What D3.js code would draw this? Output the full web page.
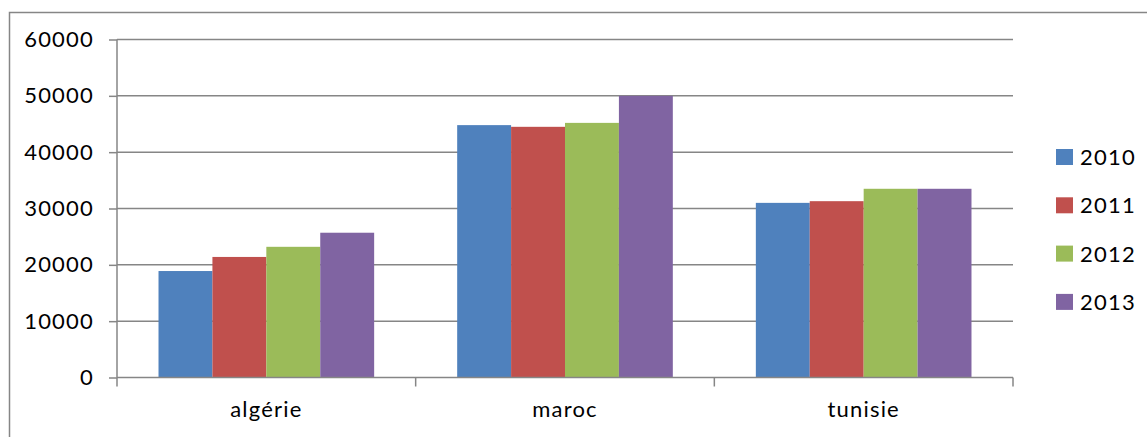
<!DOCTYPE html>
<html>
<head>
<meta charset="utf-8">
<script src="https://cdn.jsdelivr.net/npm/d3@7"></script>
<style>
  html, body { margin: 0; padding: 0; background: #fff; }
  svg { display: block; }
  text { font-family: Lato, "Open Sans", sans-serif; fill: #000; letter-spacing: 1.2px; }
</style>
</head>
<body>
<svg id="chart" width="1147" height="437"></svg>
<script>
// Categories and yearly series
const countries = ["algérie", "maroc", "tunisie"];
const years = ["2010", "2011", "2012", "2013"];
const v2010 = [18900, 44800, 31000];
const v2011 = [21400, 44500, 31300];
const v2012 = [23200, 45200, 33500];
const v2013 = [25700, 50000, 33500];
const seriesValues = [v2010, v2011, v2012, v2013];
const yTicks = [0, 10000, 20000, 30000, 40000, 50000, 60000];
const colors = ["#4f81bd", "#c0504d", "#9bbb59", "#8064a2"];

const svg = d3.select("#chart");
const axisColor = "#868686";
const fontSize = "22px";

// outer chart frame (only left and top edges fall inside the view)
svg.append("rect")
  .attr("x", 9.5).attr("y", 12.5)
  .attr("width", 1160).attr("height", 460)
  .attr("fill", "none").attr("stroke", axisColor).attr("stroke-width", 1.5);

const plotLeft = 117, plotRight = 1013, plotTop = 39.5, plotBottom = 377.5;

const x0 = d3.scaleBand().domain(countries).range([plotLeft, plotRight]).paddingInner(0).paddingOuter(0);
const x1 = d3.scaleBand().domain(years).range([0, x0.bandwidth()]).paddingInner(0).paddingOuter(0.77);
const y = d3.scaleLinear().domain([0, 60000]).range([plotBottom, plotTop]);

// horizontal gridlines
svg.append("g").selectAll("line").data(yTicks.filter(d => d > 0)).join("line")
  .attr("x1", plotLeft).attr("x2", plotRight)
  .attr("y1", d => y(d)).attr("y2", d => y(d))
  .attr("stroke", axisColor).attr("stroke-width", 1.5);

// bars
const groups = svg.append("g").selectAll("g").data(countries).join("g")
  .attr("transform", c => `translate(${x0(c)},0)`);
groups.selectAll("rect")
  .data((c, ci) => years.map((yr, si) => ({ yr, si, v: seriesValues[si][ci] })))
  .join("rect")
  .attr("x", d => x1(d.yr))
  .attr("width", x1.bandwidth())
  .attr("y", d => y(d.v))
  .attr("height", d => y(0) - y(d.v))
  .attr("fill", d => colors[d.si]);

// y axis
const yAxis = svg.append("g").attr("transform", `translate(${plotLeft},0)`)
  .call(d3.axisLeft(y).tickValues(yTicks).tickFormat(d3.format("d")).tickSize(8).tickPadding(15));
yAxis.select(".domain").attr("stroke", axisColor).attr("stroke-width", 1.5)
  .attr("d", `M0,${plotTop}V${plotBottom}`);
yAxis.selectAll(".tick line").attr("stroke", axisColor).attr("stroke-width", 1.5);
yAxis.selectAll(".tick text").style("font-size", fontSize).style("font-family", "Lato, sans-serif").attr("fill", "#000");

// x axis
const xAxis = svg.append("g").attr("transform", `translate(0,${plotBottom})`)
  .call(d3.axisBottom(x0).tickSize(0).tickPadding(24));
xAxis.select(".domain").attr("stroke", axisColor).attr("stroke-width", 1.5)
  .attr("d", `M${plotLeft},0H${plotRight}`);
xAxis.selectAll(".tick text").style("font-size", fontSize).style("font-family", "Lato, sans-serif").attr("fill", "#000");
// boundary tick marks between categories
svg.append("g").selectAll("line")
  .data([plotLeft, ...countries.map(c => x0(c) + x0.bandwidth())])
  .join("line")
  .attr("x1", d => d).attr("x2", d => d)
  .attr("y1", plotBottom).attr("y2", plotBottom + 9)
  .attr("stroke", axisColor).attr("stroke-width", 1.5);

// legend
const legend = svg.append("g").selectAll("g").data(years).join("g")
  .attr("transform", (d, i) => `translate(1056,${149 + i * 48.3})`);
legend.append("rect").attr("width", 17).attr("height", 16).attr("fill", (d, i) => colors[i]);
legend.append("text").attr("x", 24).attr("y", 8).attr("dy", "0.36em")
  .style("font-size", fontSize).text(d => d);
</script>
</body>
</html>
